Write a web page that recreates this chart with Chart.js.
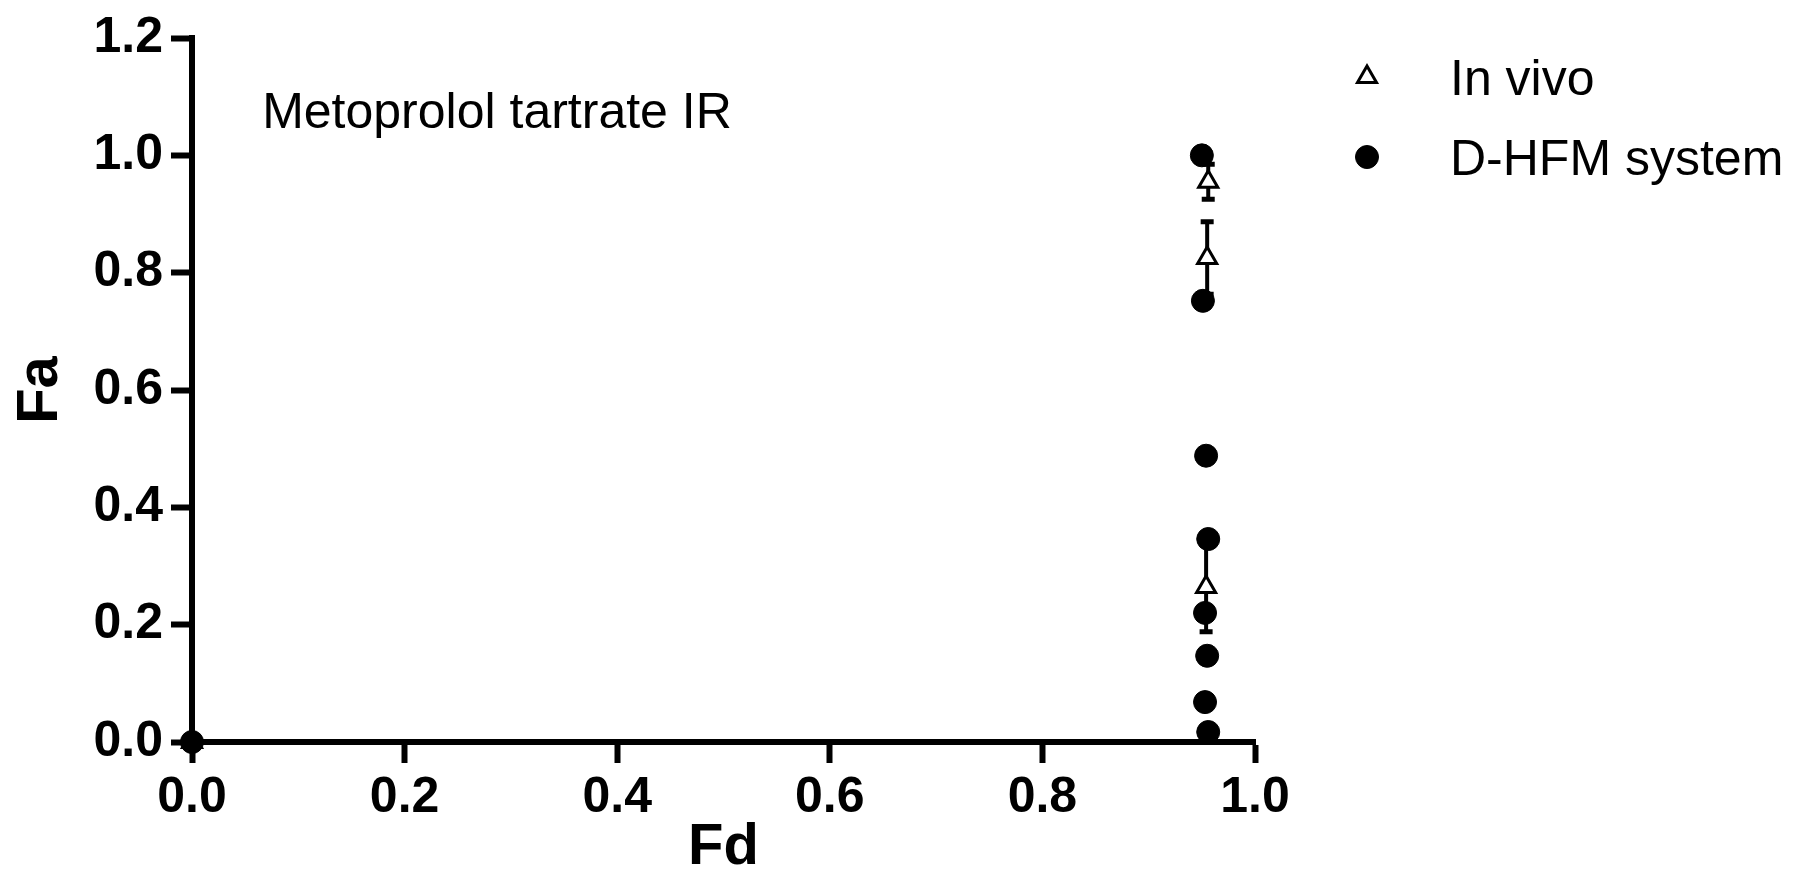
<!DOCTYPE html>
<html>
<head>
<meta charset="utf-8">
<script src="https://cdn.jsdelivr.net/npm/chart.js"></script>
<style>html,body{margin:0;padding:0;background:#fff;overflow:hidden}canvas{display:block}</style>
</head>
<body>
<canvas id="c" width="1803" height="872"></canvas>
<script>
// ---- data ----
const seriesNames = ['In vivo', 'D-HFM system'];
const inVivoFd  = [0, 0.956, 0.955, 0.954];
const inVivoFa  = [0, 0.955, 0.825, 0.264];
const inVivoErr = [0, 0.030, 0.062, 0.076];
const dhfmFd = [0, 0.950, 0.951, 0.954, 0.956, 0.953, 0.955, 0.953, 0.956];
const dhfmFa = [0, 1.000, 0.752, 0.488, 0.346, 0.220, 0.147, 0.068, 0.017];
const xTickValues = [0, 0.2, 0.4, 0.6, 0.8, 1.0];
const xTickLabels = ['0.0', '0.2', '0.4', '0.6', '0.8', '1.0'];
const yTickValues = [0, 0.2, 0.4, 0.6, 0.8, 1.0, 1.2];
const yTickLabels = ['0.0', '0.2', '0.4', '0.6', '0.8', '1.0', '1.2'];
const xTitle = 'Fd';
const yTitle = 'Fa';
const panelLabel = 'Metoprolol tartrate IR';
const panelLabelAt = [0.066, 1.046];

const family = '"Liberation Sans", Arial, sans-serif';

const errorBarPlugin = {
  id: 'errorBars',
  beforeDatasetsDraw(chart) {
    const xs = chart.scales.x, ys = chart.scales.y, ctx = chart.ctx;
    ctx.save();
    ctx.strokeStyle = '#000';
    inVivoFd.forEach((fd, i) => {
      const e = inVivoErr[i];
      if (!e) return;
      const x = xs.getPixelForValue(fd);
      const yT = ys.getPixelForValue(inVivoFa[i] + e);
      const yB = ys.getPixelForValue(inVivoFa[i] - e);
      ctx.lineWidth = 4;
      ctx.beginPath(); ctx.moveTo(x, yT); ctx.lineTo(x, yB); ctx.stroke();
      ctx.lineWidth = 5;
      ctx.beginPath();
      ctx.moveTo(x - 6.5, yT); ctx.lineTo(x + 6.5, yT);
      ctx.moveTo(x - 6.5, yB); ctx.lineTo(x + 6.5, yB);
      ctx.stroke();
    });
    ctx.restore();
  }
};

const panelLabelPlugin = {
  id: 'panelLabel',
  afterDraw(chart) {
    const ctx = chart.ctx;
    ctx.save();
    ctx.font = '50px ' + family;
    ctx.fillStyle = '#000';
    ctx.textAlign = 'left';
    ctx.textBaseline = 'alphabetic';
    ctx.fillText(panelLabel, chart.scales.x.getPixelForValue(panelLabelAt[0]), chart.scales.y.getPixelForValue(panelLabelAt[1]));
    ctx.restore();
  }
};

const legendPlugin = {
  id: 'sideLegend',
  afterDraw(chart) {
    const ctx = chart.ctx;
    const area = chart.chartArea;
    const markerX = area.right + 112;
    const textX = area.right + 195;
    ctx.save();
    chart.data.datasets.forEach((ds, i) => {
      const rowY = 77 + i * 80;
      ctx.fillStyle = ds.pointBackgroundColor;
      ctx.strokeStyle = ds.pointBorderColor;
      ctx.lineWidth = ds.pointBorderWidth;
      Chart.helpers.drawPoint(ctx, {pointStyle: ds.pointStyle, radius: ds.pointRadius, borderWidth: ds.pointBorderWidth, rotation: 0}, markerX, rowY);
      ctx.fillStyle = '#000';
      ctx.font = '50px ' + family;
      ctx.textAlign = 'left';
      ctx.textBaseline = 'alphabetic';
      ctx.fillText(ds.label, textX, rowY + 18);
    });
    ctx.restore();
  }
};

const axisCommon = {
  type: 'linear',
  grid: {drawOnChartArea: false, drawTicks: true, tickLength: 21, tickWidth: 6, tickColor: '#000', color: '#000'},
  border: {display: true, color: '#000', width: 6}
};

new Chart(document.getElementById('c').getContext('2d'), {
  type: 'scatter',
  data: {
    datasets: [
      {
        label: seriesNames[0],
        data: inVivoFd.map((x, i) => ({x: x, y: inVivoFa[i]})),
        pointStyle: 'triangle', pointRadius: 11,
        pointBackgroundColor: '#fff', pointBorderColor: '#000', pointBorderWidth: 3,
        showLine: false, clip: false, order: 1
      },
      {
        label: seriesNames[1],
        data: dhfmFd.map((x, i) => ({x: x, y: dhfmFa[i]})),
        pointStyle: 'circle', pointRadius: 11.5,
        pointBackgroundColor: '#000', pointBorderColor: '#000', pointBorderWidth: 1,
        showLine: false, clip: false, order: 0
      }
    ]
  },
  options: {
    responsive: false,
    animation: false,
    devicePixelRatio: 1,
    events: [],
    layout: {padding: {left: 0, top: 34, right: 548, bottom: 0}},
    plugins: {legend: {display: false}, tooltip: {enabled: false}, title: {display: false}},
    scales: {
      x: Object.assign({}, axisCommon, {
        min: 0, max: 1,
        afterBuildTicks: s => { s.ticks = xTickValues.map(v => ({value: v})); },
        afterFit: s => { s.height = 130; },
        ticks: {callback: (v, i) => xTickLabels[i], color: '#000', font: {family: family, size: 50, weight: 'bold'}, padding: 5, maxRotation: 0, autoSkip: false},
        title: {display: true, text: xTitle, color: '#000', font: {family: family, size: 58, weight: 'bold', lineHeight: 0.8}, padding: {top: 0, bottom: 1}}
      }),
      y: Object.assign({}, axisCommon, {
        min: 0, max: 1.2,
        afterBuildTicks: s => { s.ticks = yTickValues.map(v => ({value: v})); },
        afterFit: s => { s.width = 192; },
        ticks: {callback: (v, i) => yTickLabels[i], color: '#000', font: {family: family, size: 50, weight: 'bold'}, padding: 8, autoSkip: false},
        title: {display: true, text: yTitle, color: '#000', font: {family: family, size: 58, weight: 'bold', lineHeight: 0.8}, padding: {top: 18, bottom: 0}}
      })
    }
  },
  plugins: [errorBarPlugin, panelLabelPlugin, legendPlugin]
});
</script>
</body>
</html>
